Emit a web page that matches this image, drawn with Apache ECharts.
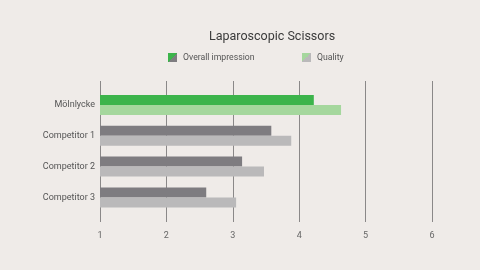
<!DOCTYPE html>
<html><head><meta charset="utf-8">
<script src="https://cdn.jsdelivr.net/npm/echarts@6/dist/echarts.min.js"></script>
<style>html,body{margin:0;padding:0;background:#efebe8}#c{width:480px;height:270px}</style>
</head><body><div id="c"></div>
<script>
var categories = ['Mölnlycke', 'Competitor 1', 'Competitor 2', 'Competitor 3'];
var overallImpression = [4.22, 3.58, 3.14, 2.60];
var quality = [4.63, 3.88, 3.47, 3.05];
var xTicks = [1, 2, 3, 4, 5, 6];
var seriesNames = ['Overall impression', 'Quality'];
var titleText = 'Laparoscopic Scissors';

var C = {green:'#3cb44b', lgreen:'#a5d79d', gray:'#7e7c80', lgray:'#bab9ba'};
function split(a,b){return {type:'linear',x:0,y:0,x2:1,y2:1,colorStops:[{offset:0,color:a},{offset:0.5,color:a},{offset:0.5,color:b},{offset:1,color:b}]};}
var font = 'Roboto';
var chart = echarts.init(document.getElementById('c'));
chart.setOption({
  backgroundColor:'#efebe8',
  animation:false,
  title:{text:titleText,left:209,top:30,padding:0,textStyle:{fontFamily:font,fontSize:12.5,fontWeight:'normal',color:'#3a3a3a'}},
  legend:[
    {left:168,top:53,padding:0,itemWidth:9,itemHeight:9,icon:'rect',data:[{name:seriesNames[0],itemStyle:{color:split(C.green,C.gray)}}],textStyle:{fontFamily:font,fontSize:8.7,color:'#555',padding:[0,0,0,1]}},
    {left:302,top:53,padding:0,itemWidth:9,itemHeight:9,icon:'rect',data:[{name:seriesNames[1],itemStyle:{color:split(C.lgreen,C.lgray)}}],textStyle:{fontFamily:font,fontSize:8.7,color:'#555',padding:[0,0,0,1]}}
  ],
  grid:[
    {left:100,right:48,top:81,bottom:48},
    {left:100,right:48,top:89.6,height:123.2}
  ],
  xAxis:[
    {gridIndex:0,type:'value',min:xTicks[0],max:xTicks[xTicks.length-1],interval:1,
     axisLine:{show:false},axisTick:{show:false},
     splitLine:{show:true,lineStyle:{color:'#8a8888',width:1}},
     axisLabel:{fontFamily:font,fontSize:9,color:'#666',margin:9}},
    {gridIndex:1,type:'value',min:xTicks[0],max:xTicks[xTicks.length-1],interval:1,show:false}
  ],
  yAxis:[
    {gridIndex:0,type:'category',data:categories,show:false},
    {gridIndex:1,type:'category',data:categories,inverse:true,
     axisLine:{show:false},axisTick:{show:false},splitLine:{show:false},
     axisLabel:{fontFamily:font,fontSize:9,color:'#555',margin:5}}
  ],
  series:[
    {name:seriesNames[0],type:'bar',xAxisIndex:1,yAxisIndex:1,barWidth:10,barGap:'0%',
     data:overallImpression.map(function(v,i){return {value:v,itemStyle:{color:i===0?C.green:C.gray}};})},
    {name:seriesNames[1],type:'bar',xAxisIndex:1,yAxisIndex:1,barWidth:10,barGap:'0%',
     data:quality.map(function(v,i){return {value:v,itemStyle:{color:i===0?C.lgreen:C.lgray}};})}
  ]
});
</script></body></html>
